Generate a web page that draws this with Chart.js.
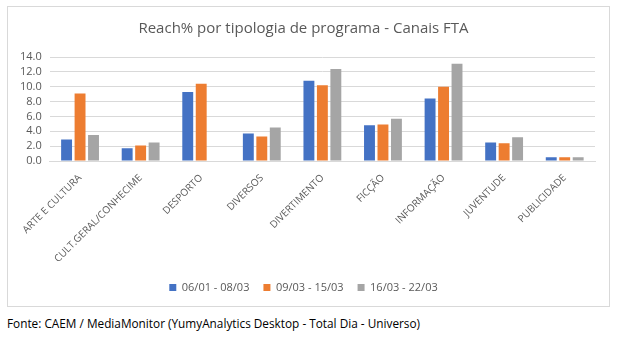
<!DOCTYPE html>
<html>
<head>
<meta charset="utf-8">
<script src="https://cdn.jsdelivr.net/npm/chart.js@4.4.1/dist/chart.umd.min.js"></script>
<style>
  body { margin: 0; background: #fff; width: 620px; height: 344px; position: relative; overflow: hidden; }
  #box { position: absolute; left: 7px; top: 6px; width: 601px; height: 299px; border: 1px solid #d9d9d9; }
  #foot { position: absolute; left: 7px; top: 315px; font-family: "Open Sans", sans-serif; font-size: 11.8px; color: #000; }
</style>
</head>
<body>
<div id="box"><canvas id="c" width="601" height="299"></canvas></div>
<div id="foot">Fonte: CAEM / MediaMonitor (YumyAnalytics Desktop - Total Dia - Universo)</div>
<script>
// categorias e séries
const categories = ['ARTE E CULTURA', 'CULT.GERAL/CONHECIME', 'DESPORTO', 'DIVERSOS', 'DIVERTIMENTO',
  'FICÇÃO', 'INFORMAÇÃO', 'JUVENTUDE', 'PUBLICIDADE'];
const periodos = ['06/01 - 08/03', '09/03 - 15/03', '16/03 - 22/03'];
const reach1 = [2.9, 1.7, 9.3, 3.7, 10.8, 4.8, 8.4, 2.5, 0.5];
const reach2 = [9.1, 2.1, 10.4, 3.3, 10.2, 4.9, 10.0, 2.4, 0.5];
const reach3 = [3.5, 2.5, 0, 4.5, 12.4, 5.7, 13.1, 3.2, 0.5];
const cores = ['#4472C4', '#ED7D31', '#A5A5A5'];

const txt = '#595959';
const ctx = document.getElementById('c').getContext('2d');

new Chart(ctx, {
  type: 'bar',
  data: {
    labels: categories,
    datasets: [reach1, reach2, reach3].map((d, i) => ({
      label: periodos[i],
      data: d,
      backgroundColor: cores[i],
      categoryPercentage: 0.667,
      barPercentage: 0.81
    }))
  },
  options: {
    responsive: false,
    animation: false,
    layout: { padding: { left: 4, right: 14, top: 4, bottom: 3 } },
    plugins: {
      title: {
        display: true,
        text: 'Reach% por tipologia de programa - Canais FTA',
        color: txt,
        font: { family: 'Open Sans', size: 15, weight: 'normal' },
        padding: { top: 9, bottom: 19 }
      },
      legend: {
        position: 'bottom',
        labels: {
          color: txt,
          font: { family: 'Open Sans', size: 11 },
          boxWidth: 7,
          boxHeight: 7,
          padding: 14
        }
      },
      tooltip: { enabled: false }
    },
    scales: {
      x: {
        grid: { display: false },
        border: { color: '#d9d9d9' },
        afterFit: s => { s.height = 107; },
        ticks: {
          color: txt,
          font: { family: 'Open Sans', size: 10 },
          minRotation: 45,
          maxRotation: 45,
          autoSkip: false
        }
      },
      y: {
        min: 0,
        max: 14,
        grid: { color: '#d9d9d9', drawTicks: false },
        border: { display: false },
        ticks: {
          stepSize: 2,
          autoSkip: false,
          color: txt,
          padding: 8,
          font: { family: 'Open Sans', size: 11 },
          callback: v => v.toFixed(1)
        }
      }
    }
  }
});
</script>
</body>
</html>
